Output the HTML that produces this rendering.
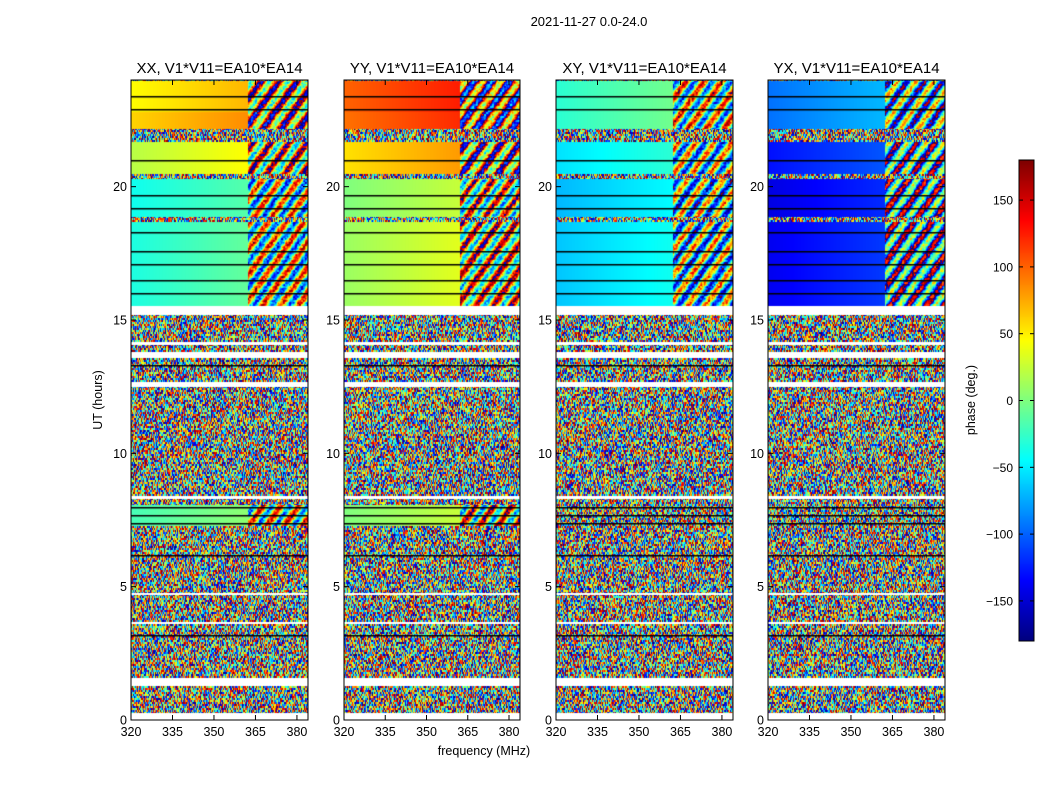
<!DOCTYPE html>
<html><head><meta charset="utf-8"><style>
body{margin:0;background:#fff;font-family:"Liberation Sans",sans-serif;}
#wrap{position:relative;width:1050px;height:800px;overflow:hidden;background:#fff}
canvas{position:absolute}
svg{position:absolute;left:0;top:0}
</style></head><body>
<div id="wrap">
<canvas id="c0" width="177" height="640" style="left:131px;top:80px"></canvas>
<canvas id="c1" width="176" height="640" style="left:344px;top:80px"></canvas>
<canvas id="c2" width="177" height="640" style="left:556px;top:80px"></canvas>
<canvas id="c3" width="177" height="640" style="left:768px;top:80px"></canvas>
<canvas id="cb" width="15" height="481" style="left:1019px;top:160px"></canvas>
<svg id="ov" width="1050" height="800"></svg>
</div>
<script>
// ---- data ----
const titles=["XX, V1*V11=EA10*EA14","YY, V1*V11=EA10*EA14","XY, V1*V11=EA10*EA14","YX, V1*V11=EA10*EA14"];
const xTicks=[320,335,350,365,380];
const yTicks=[0,5,10,15,20];
const cbTicks=[-150,-100,-50,0,50,100,150];
// smooth bands: [tStart,tEnd,phase at low freq (320-362 MHz)]
const bandsXX=[[15.55,18.7,-35],[18.9,20.3,-40],[20.5,21.7,20],[22.2,22.8,60],[22.8,24,45],[7.3,8.1,-20]];
const bandsYY=[[15.55,18.7,10],[18.9,20.3,0],[20.5,21.7,55],[22.2,22.8,95],[22.8,24,100],[7.3,8.1,0]];
const bandsXY=[[15.55,18.7,-65],[18.9,20.3,-70],[20.5,21.7,-55],[22.2,24,-30]];
const bandsYX=[[15.55,18.7,-140],[18.9,20.3,-145],[20.5,21.7,-130],[22.2,24,-95]];
const allBands=[bandsXX,bandsYY,bandsXY,bandsYX];
const whiteGaps=[[0,0.3],[1.3,1.6],[3.6,3.7],[4.7,4.8],[8.3,8.4],[12.5,12.7],[13.6,13.8],[14.1,14.2],[15.2,15.55]];
const blackLines=[16.0,16.5,17.1,17.6,18.3,19.2,19.7,21.0,22.9,23.4,7.4,7.7,8.0,13.3,6.2,3.2];
// ---- scales ----
const fMin=320,fMax=384,tMax=24,H=640;
function jet(v){
  const r=Math.min(1,Math.max(0,1.5-Math.abs(4*v-3)));
  const g=Math.min(1,Math.max(0,1.5-Math.abs(4*v-2)));
  const b=Math.min(1,Math.max(0,1.5-Math.abs(4*v-1)));
  return [r*255|0,g*255|0,b*255|0];
}
function ph2v(p){return (p+180)/360;}
function hash(i,j,k){let h=(i*374761393+j*668265263+k*2246822519)>>>0;h=(h^(h>>>13))*1274126177>>>0;return ((h^(h>>>16))>>>0)/4294967296;}
function tY(t){return H-t/tMax*H;}
allBands.forEach((bands,k)=>{
  const cv=document.getElementById('c'+k),ctx=cv.getContext('2d'),W=cv.width;
  const img=ctx.createImageData(W,H);
  const fx=x=>fMin+x/W*(fMax-fMin);
  for(let y=0;y<H;y++){
    const t=(H-y)/H*tMax;
    let band=null;for(const b of bands){if(t>=b[0]&&t<b[1])band=b;}
    let white=whiteGaps.some(g=>t>=g[0]&&t<g[1]);
    for(let x=0;x<W;x++){
      let c;
      const f=fx(x);
      if(white)c=[255,255,255];
      else if(band&&f<362){
        c=jet(ph2v(band[2]+(f-320)*0.6));
      }else if(band&&f>=362){
        const base=ph2v(band[2]);
        c=jet(((base+Math.sin(x*0.35+y*0.25)*0.35+hash(x>>1,y>>1,k)*0.25)%1+1)%1);
      }else{
        c=jet(hash(x,y>>1,k));
      }
      const o=(y*W+x)*4;img.data[o]=c[0];img.data[o+1]=c[1];img.data[o+2]=c[2];img.data[o+3]=255;
    }
  }
  ctx.putImageData(img,0,0);
  ctx.fillStyle='#000';
  blackLines.forEach(t=>ctx.fillRect(0,Math.round(tY(t)),W,1.5));
});
(function(){const cv=document.getElementById('cb'),ctx=cv.getContext('2d');
for(let y=0;y<cv.height;y++){const c=jet(1-y/(cv.height-1));ctx.fillStyle=`rgb(${c})`;ctx.fillRect(0,y,15,1);}})();
// ---- axes ----
const NS='http://www.w3.org/2000/svg',ov=document.getElementById('ov');
function el(tag,attrs,txt){const e=document.createElementNS(NS,tag);for(const a in attrs)e.setAttribute(a,attrs[a]);if(txt!==undefined)e.textContent=txt;ov.appendChild(e);return e;}
const panelX=[131,344,556,768],panelW=[177,176,177,177],top0=80;
panelX.forEach((x0,k)=>{
  const w=panelW[k],xs=f=>x0+(f-fMin)/(fMax-fMin)*w,ys=t=>top0+tY(t);
  const fr=el('rect',{x:x0,y:top0,width:w,height:H,fill:'none',stroke:'#000','stroke-width':1});
  
  const ti=el('text',{x:x0+w/2,y:73,'font-size':15,'text-anchor':'middle'},titles[k]);
  
  xTicks.forEach(f=>{const X=xs(f);
    el('line',{x1:X,x2:X,y1:top0+H,y2:top0+H-5,stroke:'#000'});
    el('line',{x1:X,x2:X,y1:top0,y2:top0+5,stroke:'#000'});
    const l=el('text',{x:X,y:736,'font-size':12.5,'text-anchor':'middle'},f);
    });
  yTicks.forEach(t=>{const Y=ys(t);
    el('line',{x1:x0,x2:x0+5,y1:Y,y2:Y,stroke:'#000'});
    el('line',{x1:x0+w,x2:x0+w-5,y1:Y,y2:Y,stroke:'#000'});
    const l=el('text',{x:x0-4,y:Y+4.5,'font-size':12.5,'text-anchor':'end'},t);
    });
});
let t=el('text',{x:589,y:26,'font-size':13,'text-anchor':'middle'},'2021-11-27 0.0-24.0');

t=el('text',{x:484,y:755,'font-size':12.5,'text-anchor':'middle'},'frequency (MHz)');

t=el('text',{x:102,y:400,'font-size':12.5,'text-anchor':'middle',transform:'rotate(-90 102 400)'},'UT (hours)');

t=el('text',{x:975,y:400,'font-size':12.5,'text-anchor':'middle',transform:'rotate(-90 975 400)'},'phase (deg.)');

el('rect',{x:1019,y:160,width:15,height:481,fill:'none',stroke:'#000'});
cbTicks.forEach(v=>{const Y=160+(180-v)/360*481;
  el('line',{x1:1019,x2:1023,y1:Y,y2:Y,stroke:'#000'});el('line',{x1:1034,x2:1030,y1:Y,y2:Y,stroke:'#000'});
  const l=el('text',{x:1013,y:Y+4.5,'font-size':12,'text-anchor':'end'},v<0?'\u2212'+(-v):v);
  });
</script>
</body></html>
